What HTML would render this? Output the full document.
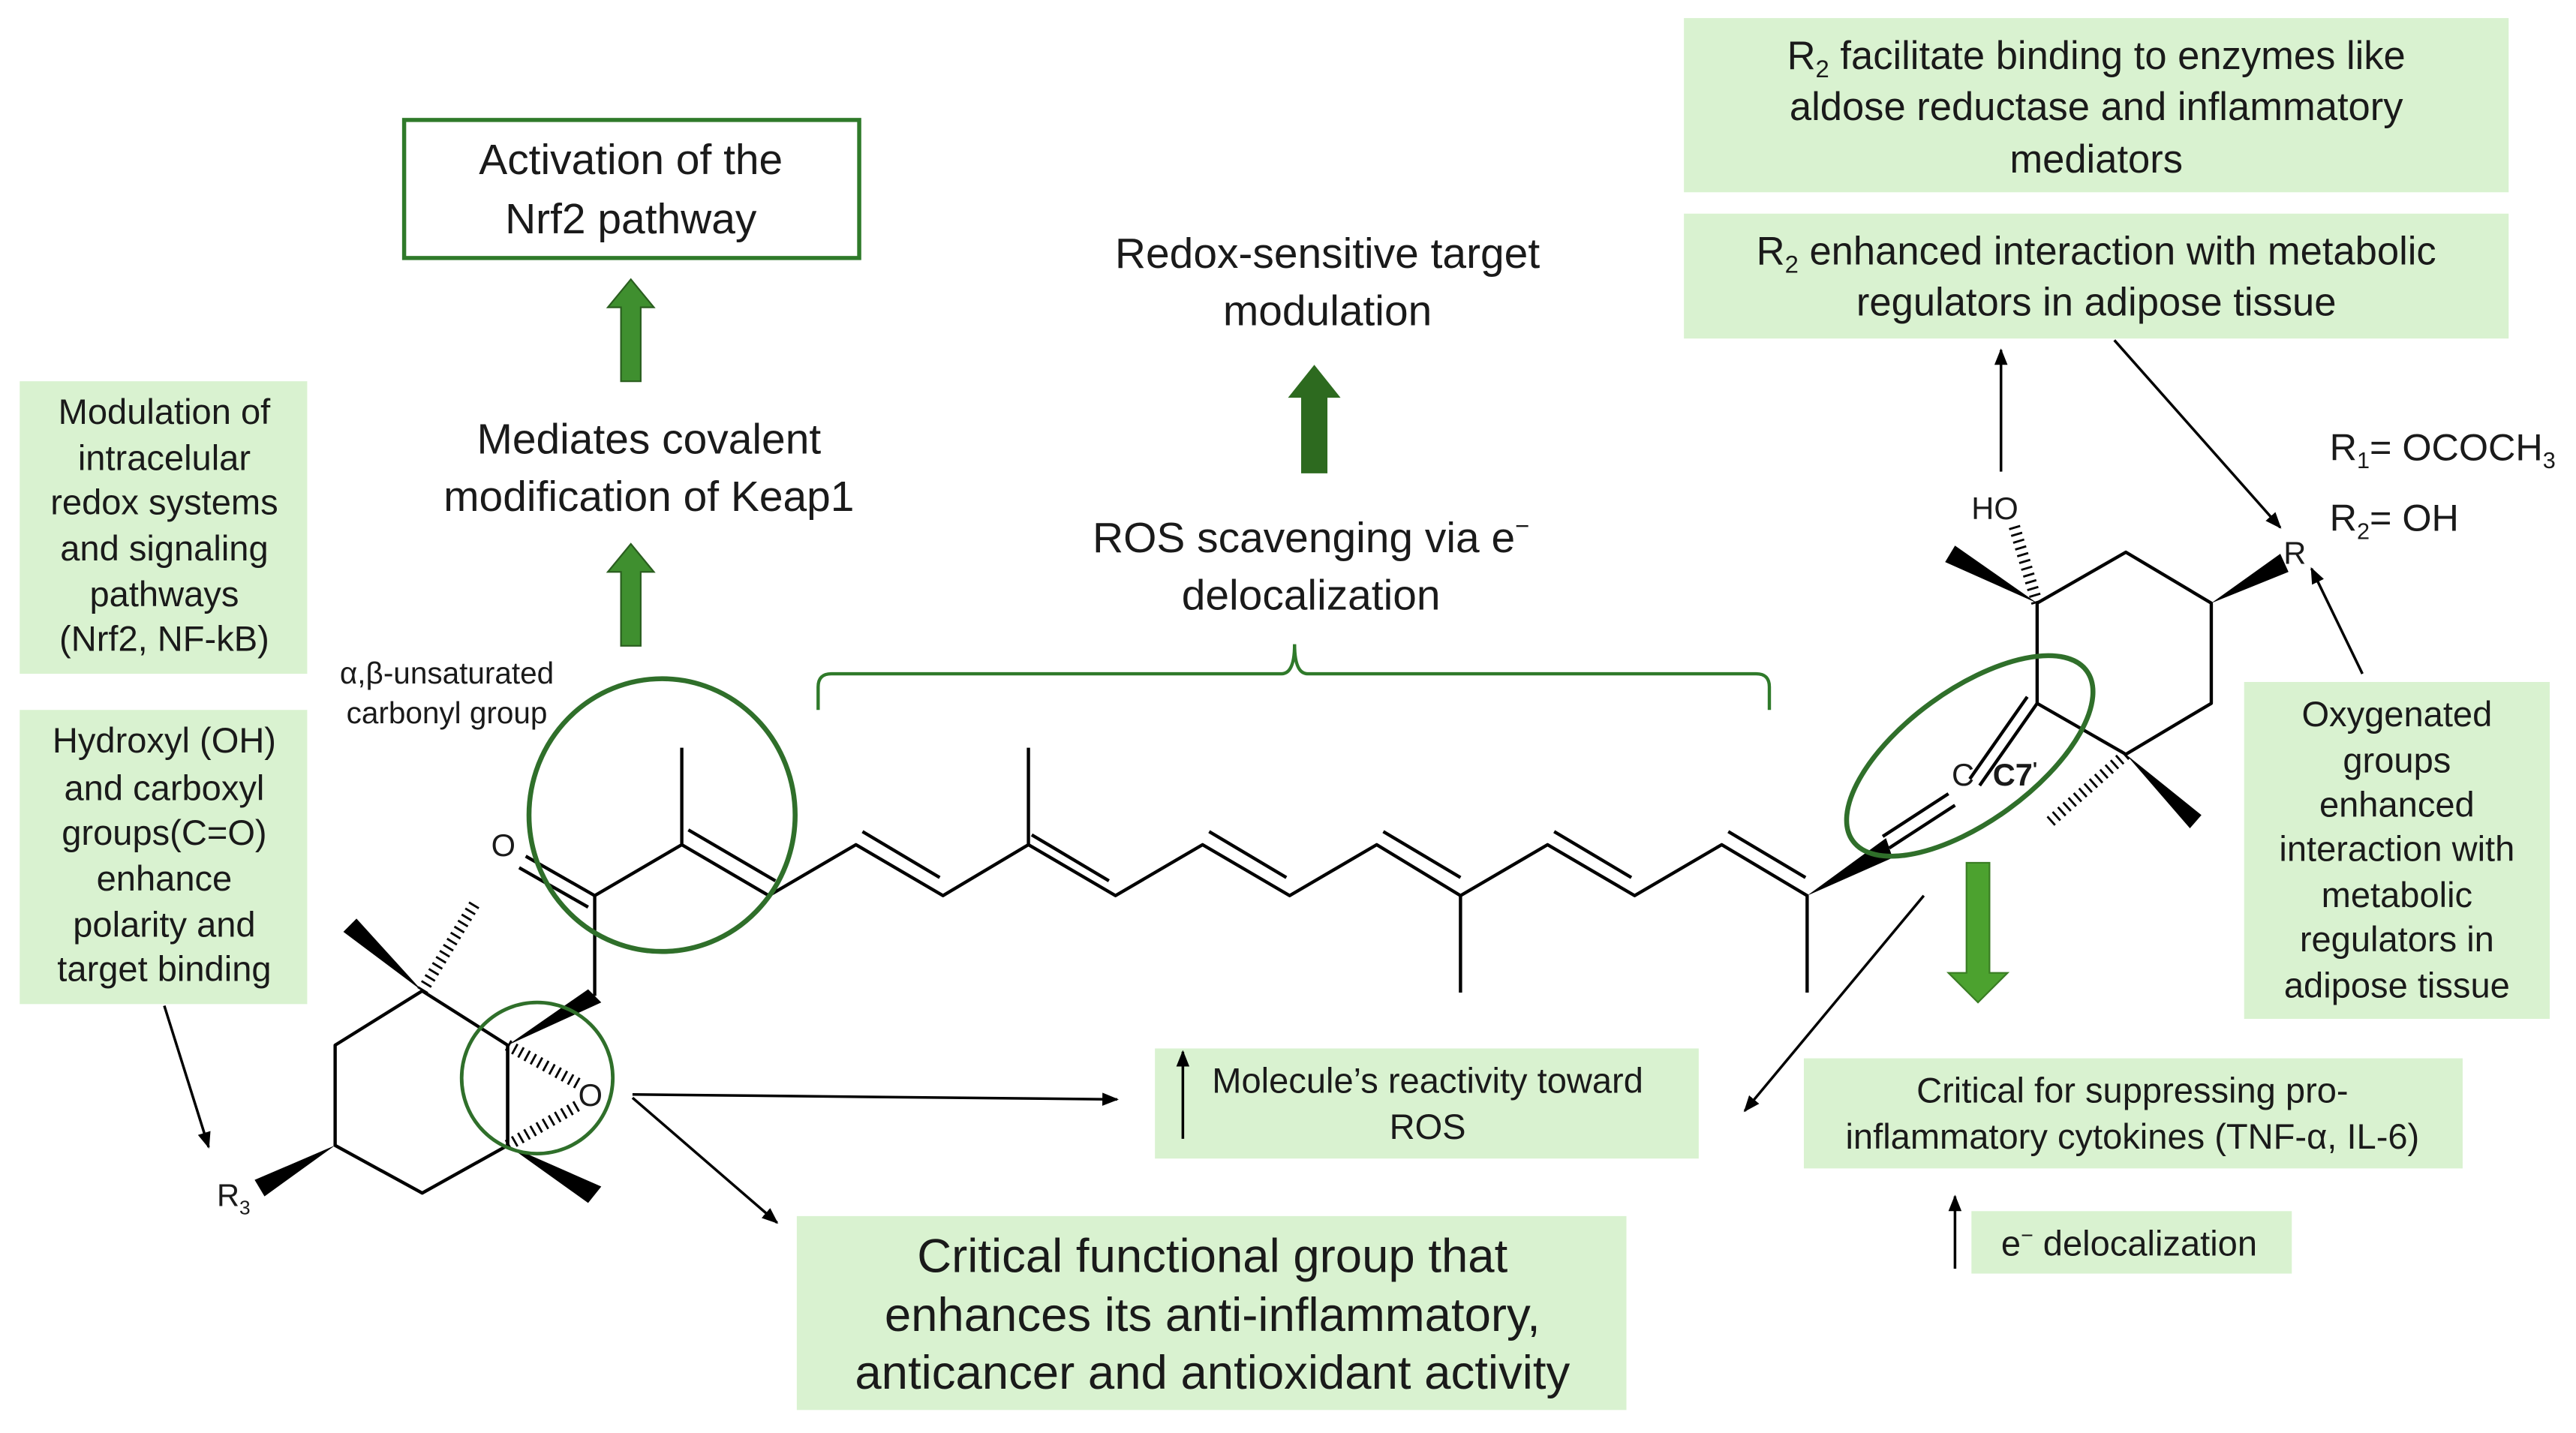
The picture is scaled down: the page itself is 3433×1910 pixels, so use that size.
<!DOCTYPE html>
<html><head><meta charset="utf-8"><style>
html,body{margin:0;padding:0;background:#fff;}
svg{display:block;}
text{font-family:"Liberation Sans",sans-serif;fill:#1a1a1a;}
</style></head><body>
<svg width="3433" height="1910" viewBox="0 0 1568 872" preserveAspectRatio="none" xmlns="http://www.w3.org/2000/svg">
<defs>
<marker id="ah" markerWidth="10" markerHeight="8" refX="9" refY="4" orient="auto" markerUnits="userSpaceOnUse"><path d="M0,0 L10,4 L0,8 z" fill="#000"/></marker>
</defs>
<rect width="1568" height="872" fill="#fff"/>

<rect x="246" y="73" width="277" height="84" fill="#fff" stroke="#2f7a2a" stroke-width="2.5"/>
<text x="384" y="106" font-size="26" text-anchor="middle">Activation of the</text>
<text x="384" y="142" font-size="26" text-anchor="middle">Nrf2 pathway</text>

<g fill="#d9f2d0">
<rect x="12" y="232" width="175" height="178"/>
<rect x="12" y="432" width="175" height="179"/>
<rect x="703" y="638" width="331" height="67"/>
<rect x="485" y="740" width="505" height="118"/>
<rect x="1098" y="644" width="401" height="67"/>
<rect x="1200" y="737" width="195" height="38"/>
<rect x="1025" y="11" width="502" height="106"/>
<rect x="1025" y="130" width="502" height="76"/>
<rect x="1366" y="415" width="186" height="205"/>
</g>

<g font-size="21.5" text-anchor="middle">
<text x="100" y="258">Modulation of</text>
<text x="100" y="286">intracelular</text>
<text x="100" y="313">redox systems</text>
<text x="100" y="341">and signaling</text>
<text x="100" y="369">pathways</text>
<text x="100" y="396">(Nrf2, NF-kB)</text>
<text x="100" y="458">Hydroxyl (OH)</text>
<text x="100" y="487">and carboxyl</text>
<text x="100" y="514">groups(C=O)</text>
<text x="100" y="542">enhance</text>
<text x="100" y="570">polarity and</text>
<text x="100" y="597">target binding</text>
<text x="1459" y="442">Oxygenated</text>
<text x="1459" y="470">groups</text>
<text x="1459" y="497">enhanced</text>
<text x="1459" y="524">interaction with</text>
<text x="1459" y="552">metabolic</text>
<text x="1459" y="579">regulators in</text>
<text x="1459" y="607">adipose tissue</text>
</g>

<g font-size="26" text-anchor="middle">
<text x="395" y="276">Mediates covalent</text>
<text x="395" y="311">modification of Keap1</text>
<text x="808" y="163">Redox-sensitive target</text>
<text x="808" y="198">modulation</text>
<text x="798" y="336">ROS scavenging via e<tspan font-size="15" dy="-11">−</tspan></text>
<text x="798" y="371">delocalization</text>
</g>

<g font-size="18.5" text-anchor="middle">
<text x="272" y="416">α,β-unsaturated</text>
<text x="272" y="440">carbonyl group</text>
</g>

<g font-size="21.5" text-anchor="middle">
<text x="869" y="665">Molecule’s reactivity toward</text>
<text x="869" y="693">ROS</text>
<text x="1298" y="671">Critical for suppressing pro-</text>
<text x="1298" y="699">inflammatory cytokines (TNF-α, IL-6)</text>
<text x="1296" y="764">e<tspan font-size="13" dy="-8">−</tspan><tspan dy="8"> delocalization</tspan></text>
</g>

<g font-size="29" text-anchor="middle">
<text x="738" y="774">Critical functional group that</text>
<text x="738" y="810">enhances its anti-inflammatory,</text>
<text x="738" y="845">anticancer and antioxidant  activity</text>
</g>

<g font-size="24" text-anchor="middle">
<text x="1276" y="42">R<tspan font-size="15" dy="5">2</tspan><tspan dy="-5"> facilitate binding to enzymes like</tspan></text>
<text x="1276" y="73">aldose reductase and inflammatory</text>
<text x="1276" y="105">mediators</text>
<text x="1276" y="161">R<tspan font-size="15" dy="5">2</tspan><tspan dy="-5"> enhanced interaction with metabolic</tspan></text>
<text x="1276" y="192">regulators in adipose tissue</text>
</g>

<text x="1418" y="280" font-size="23">R<tspan font-size="14" dy="5">1</tspan><tspan dy="-5">= OCOCH</tspan><tspan font-size="14" dy="5">3</tspan></text>
<text x="1418" y="323" font-size="23">R<tspan font-size="14" dy="5">2</tspan><tspan dy="-5">= OH</tspan></text>

<g fill="#3f8f2f" stroke="#2a5e1f" stroke-width="1">
<polygon points="378,232 390,232 390,187 398,187 384,170 370,187 378,187"/>
<polygon points="378,393 390,393 390,348 398,348 384,331 370,348 378,348"/>
</g>
<polygon points="792,288 808,288 808,242 816,242 800,222 784,242 792,242" fill="#2d6a1f"/>
<polygon points="1197,525 1211,525 1211,592 1222,592 1204,610 1186,592 1197,592" fill="#4ca22f" stroke="#3a7d24" stroke-width="1"/>

<path d="M498,432 L498,418 Q498,410 506,410 L780,410 Q788,410 788,392 Q788,410 796,410 L1069,410 Q1077,410 1077,418 L1077,432" fill="none" stroke="#2f7a2a" stroke-width="2"/>

<g stroke="#000" stroke-width="1.6" fill="none" marker-end="url(#ah)">
<line x1="100" y1="612" x2="127" y2="698"/>
<line x1="385" y1="666" x2="680" y2="669"/>
<line x1="385" y1="668" x2="473" y2="744"/>
<line x1="1171" y1="545" x2="1062" y2="676"/>
<line x1="1218" y1="287" x2="1218" y2="213"/>
<line x1="1287" y1="207" x2="1388" y2="321"/>
<line x1="1438" y1="410" x2="1407" y2="346"/>
<line x1="720" y1="693" x2="720" y2="640"/>
<line x1="1190" y1="772" x2="1190" y2="728"/>
</g>

<g stroke="#000" stroke-width="2" fill="none" stroke-linejoin="round">
<polyline points="257,603 204,636 204,697 257,726 309,697 309,636 257,603"/>
<line x1="309" y1="636" x2="309" y2="697"/>
<line x1="362" y1="606" x2="362" y2="545"/>
<line x1="362" y1="545" x2="320" y2="521"/>
<line x1="358" y1="552" x2="316" y2="528"/>
<polyline points="362,545 415,514 415,455"/>
<line x1="415" y1="514" x2="468" y2="545"/>
<line x1="419" y1="505" x2="472" y2="536"/>
<polyline points="468,545 521,514 574,545 626,514 679,545 732,514 785,545 838,514 889,545 942,514 995,545 1048,514 1100,545 1100,604"/>
<line x1="626" y1="514" x2="626" y2="455"/>
<line x1="889" y1="545" x2="889" y2="604"/>
<line x1="525" y1="506" x2="572" y2="534"/>
<line x1="628" y1="508" x2="675" y2="536"/>
<line x1="736" y1="506" x2="783" y2="534"/>
<line x1="842" y1="506" x2="889" y2="534"/>
<line x1="946" y1="506" x2="993" y2="534"/>
<line x1="1052" y1="506" x2="1099" y2="534"/>
<line x1="1150" y1="516" x2="1190" y2="490"/>
<line x1="1146" y1="509" x2="1186" y2="483"/>
<line x1="1205" y1="478" x2="1240" y2="428"/>
<line x1="1199" y1="474" x2="1234" y2="424"/>
<polyline points="1240,428 1240,367 1294,336 1346,367 1346,428 1294,459 1240,428"/>
</g>
<g fill="#000">
<polygon points="309,636 358,602 366,610"/>
<polygon points="257,603 209,567 217,559"/>
<polygon points="309,697 358,732 366,722"/>
<polygon points="204,697 155,718 161,728"/>
<polygon points="1100,545 1148,510 1152,522"/>
<polygon points="1240,367 1184,342 1190,332"/>
<polygon points="1346,367 1388,337 1393,348"/>
<polygon points="1294,459 1333,504 1340,496"/>
</g>
<g stroke="#000" stroke-width="7" stroke-dasharray="1.3 3" fill="none">
<line x1="257" y1="603" x2="289" y2="550"/>
<line x1="309" y1="636" x2="353" y2="660"/>
<line x1="309" y1="697" x2="353" y2="672"/>
<line x1="1240" y1="367" x2="1226" y2="320"/>
<line x1="1294" y1="459" x2="1248" y2="500"/>
</g>
<g font-size="19">
<text x="299" y="521">O</text>
<text x="352" y="673">O</text>
<text x="1200" y="316">HO</text>
<text x="1390" y="343">R</text>
<text x="132" y="734">R<tspan font-size="12" dy="5">3</tspan></text>
<text x="1188" y="478">C</text>
<text x="1213" y="478" font-weight="bold">C7<tspan font-size="12" dy="-6">'</tspan></text>
</g>

<g fill="none" stroke="#2f6f2a" stroke-width="3">
<ellipse cx="403" cy="496" rx="81" ry="83"/>
<circle cx="327" cy="656" r="46" stroke-width="2.2"/>
<ellipse cx="1199" cy="460" rx="88" ry="40" transform="rotate(-36 1199 460)"/>
</g>
</svg>
</body></html>
